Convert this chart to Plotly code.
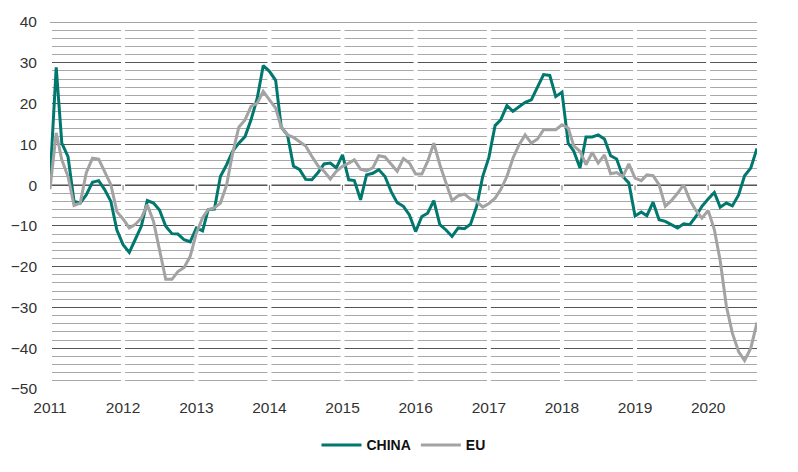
import plotly.graph_objects as go
import pandas as pd

# Monthly data, Jan 2011 - Sep 2020
months = pd.date_range("2011-01-01", "2020-09-01", freq="MS")

china = [
    1.0, 28.9, 10.3, 7.0, -4.0, -4.4, -2.4, 0.7, 1.1, -1.1, -4.0, -11.0,
    -14.6, -16.5, -13.4, -10.1, -3.8, -4.4, -6.1, -10.1, -11.9, -12.0, -13.4, -13.9,
    -10.5, -11.2, -6.0, -5.9, 2.1, 5.0, 8.3, 10.3, 11.9, 16.0, 21.3, 29.3,
    27.9, 25.7, 14.2, 12.3, 4.7, 3.8, 1.4, 1.3, 3.1, 5.2, 5.4, 4.2,
    7.4, 1.3, 1.1, -3.6, 2.5, 2.9, 3.8, 2.1, -1.6, -4.3, -5.2, -7.3,
    -11.4, -7.7, -6.9, -3.8, -9.7, -11.0, -12.6, -10.5, -10.7, -9.6, -5.2, 2.1,
    6.8, 14.6, 16.0, 19.5, 18.1, 19.3, 20.3, 20.9, 24.2, 27.1, 26.9, 21.7,
    22.8, 10.3, 8.3, 4.2, 11.8, 11.8, 12.3, 11.3, 7.2, 6.4, 2.1, 0.5,
    -7.6, -6.6, -7.5, -4.2, -8.5, -8.9, -9.7, -10.5, -9.5, -9.7, -7.7, -5.2,
    -3.4, -1.8, -5.4, -4.4, -5.1, -2.4, 2.3, 4.2, 9.0,
]

eu = [
    -1.0, 12.8, 6.2, 2.1, -5.0, -4.4, 3.0, 6.6, 6.4, 3.4, 0.1, -6.5,
    -8.3, -10.5, -9.7, -8.1, -4.8, -8.9, -16.3, -23.1, -23.1, -21.2, -20.2, -17.5,
    -11.8, -8.0, -6.0, -5.6, -4.4, 0.0, 7.8, 14.2, 16.0, 19.3, 20.1, 23.0,
    20.9, 18.9, 14.2, 12.3, 11.7, 10.7, 9.6, 7.0, 4.7, 3.4, 1.5, 3.4,
    4.6, 5.4, 6.2, 3.9, 3.5, 4.2, 7.2, 6.9, 5.0, 3.4, 6.5, 5.4,
    2.7, 2.7, 5.8, 10.3, 5.0, 0.5, -3.8, -2.6, -2.2, -3.4, -4.0, -5.4,
    -4.5, -3.2, -1.1, 2.1, 6.6, 9.9, 12.3, 10.3, 11.3, 13.6, 13.6, 13.6,
    14.8, 14.0, 9.6, 8.3, 5.0, 8.0, 5.4, 7.4, 2.8, 3.1, 2.1, 5.2,
    1.7, 1.1, 2.5, 2.3, 0.1, -5.2, -3.8, -2.0, 0.1, -3.6, -6.2, -8.1,
    -6.2, -10.9, -18.5, -29.7, -36.3, -40.8, -43.0, -40.0, -33.7,
]

years = [str(y) for y in range(2011, 2021)]
y_min, y_max = -50, 40

TEAL = "#00786F"
GREY = "#A3A3A3"
FONT = "Liberation Sans"

fig = go.Figure()
fig.add_trace(go.Scatter(x=months, y=china, name="CHINA", mode="lines",
                         line=dict(color=TEAL, width=3)))
fig.add_trace(go.Scatter(x=months, y=eu, name="EU", mode="lines",
                         line=dict(color=GREY, width=3)))

shapes = []
# white vertical separators at year boundaries (break the gridlines)
for y in years:
    shapes.append(dict(type="line", xref="x", yref="y", x0=f"{y}-01-01", x1=f"{y}-01-01",
                       y0=y_min - 2, y1=y_max - 0.6, line=dict(color="white", width=4),
                       layer="between"))
# continuous zero line and top line
for yv in (0, y_max):
    shapes.append(dict(type="line", xref="paper", yref="y", x0=0, x1=1, y0=yv, y1=yv,
                       line=dict(color="#4a4a4a", width=1.2), layer="between"))
# small ticks below zero line
for y in years[1:]:
    shapes.append(dict(type="line", xref="x", yref="y", x0=f"{y}-01-01", x1=f"{y}-01-01",
                       y0=0, y1=-1.3, line=dict(color="#777777", width=1), layer="between"))

fig.update_layout(
    width=790, height=464,
    margin=dict(l=42, r=41, t=14, b=83, autoexpand=False),
    paper_bgcolor="white", plot_bgcolor="white",
    font=dict(family=FONT, size=15.5, color="#333333"),
    shapes=shapes,
    showlegend=True,
    legend=dict(orientation="h", x=0.5, xanchor="center", y=-0.11, yanchor="top",
                font=dict(family=FONT, size=14, color="#111111", weight="bold"),
                itemwidth=40, traceorder="normal"),
    hovermode=False,
)
fig.update_xaxes(
    type="date", range=[months[0], months[-1]],
    tickvals=[f"{y}-01-01" for y in years], ticktext=years,
    showgrid=False, zeroline=False, showline=False, ticks="",
    ticklabelstandoff=7, automargin=False,
)
fig.update_yaxes(
    range=[y_min, y_max], dtick=10, tick0=0,
    showgrid=True, gridcolor="#555555", gridwidth=1,
    minor=dict(dtick=2, showgrid=True, gridcolor="#A8A8A8", gridwidth=1),
    zeroline=False, showline=False, ticks="",
    ticklabelstandoff=12, automargin=False,
)

fig.write_html("out.html")
